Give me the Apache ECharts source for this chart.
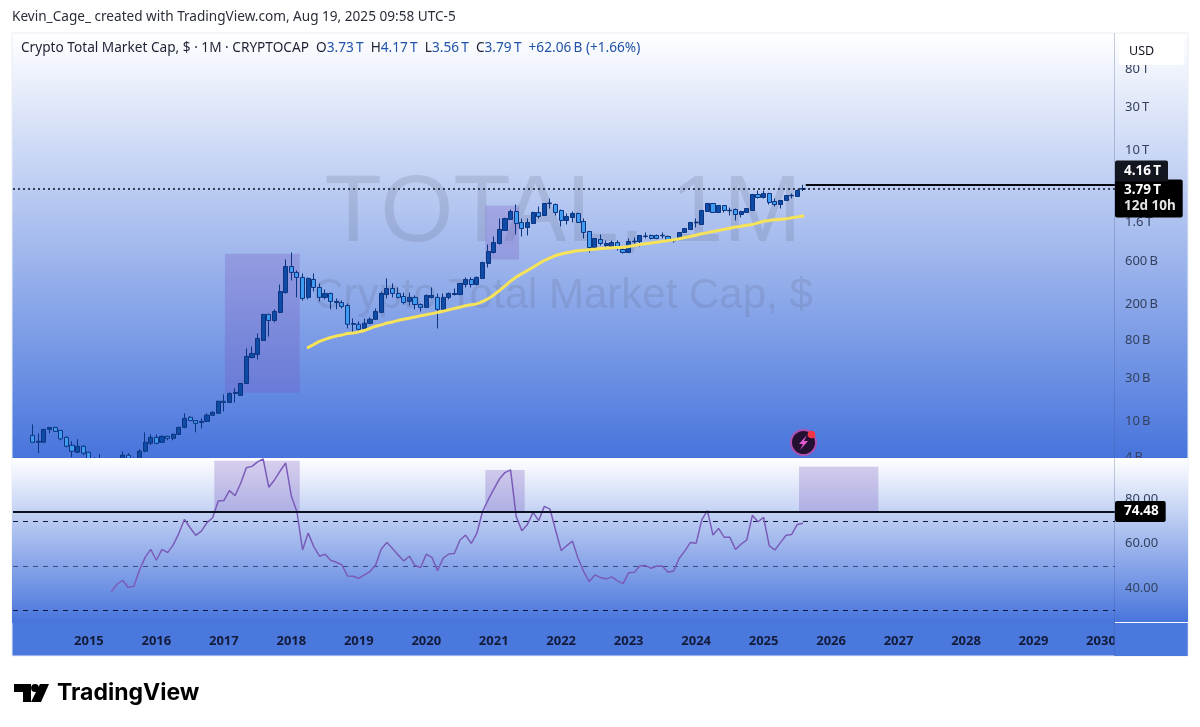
<!DOCTYPE html>
<html><head><meta charset="utf-8">
<style>html,body{margin:0;padding:0;background:#fff}#c{width:1200px;height:727px}</style>
<script src="https://cdn.jsdelivr.net/npm/echarts@6/dist/echarts.min.js"></script>
</head><body><div id="c"></div>
<script>
// Values are in billions of USD, one per month from Mar 2014 to Aug 2025.
const opens=[7,5.87,5.87,8.16,8.58,7.95,6.66,5.44,4.55,5.3,4.55,3.72,3.81,3.53,3.44,3.62,3.62,4.22,3.81,3.81,4.67,5.72,6.66,5.87,6.83,6.49,7.18,8.58,11.1,10.2,9.74,10,11.7,12.3,16.7,16.2,20.4,19.4,26.3,51,55.1,78.7,153,131,161,267,519,446,393,236,373,304,236,261,207,207,192,119,119,107,122,135,161,254,296,261,242,213,236,197,183,236,236,174,236,254,254,328,373,328,383,561,742,933,1300,1721,2110,1594,1404,1554,2057,1906,2588,2523,2165,1678,1811,2006,1636,1268,843,1034,887,864,957,801,742,975,982,1116,1145,1145,1135,1116,1000,1061,1236,1334,1580,1515,2110,2588,2057,2460,2150,2221,1955,2057,2165,3256,3016,3340,2724,2523,2794,3150,3094,3730];
const closes=[5.87,6.02,8.16,8.58,7.75,6.4,5.3,4.67,5.3,4.44,3.72,3.36,3.53,3.36,3.62,3.72,4.22,3.81,3.53,4.67,5.87,6.66,5.72,6.83,6.49,7.18,8.58,10.8,10.2,9.5,10,11.7,12.6,16.7,16.2,20.4,20.9,26.3,52.4,56.5,82.8,153,131,165,274,519,446,393,230,383,304,236,261,213,213,187,119,121,104.5,122,135,165,261,296,261,236,207,236,197,183,248,248,174,236,261,261,337,373,328,393,575,761,957,1334,1766,2110,1554,1368,1594,2057,1858,2588,2620,2057,1678,1858,2006,1594,1236,843,1061,933,933,957,821,742,982,990,1145,1130,1061,1061,1150,1007,1015,1236,1368,1594,1610,2165,2588,2057,2460,2165,2180,1955,2110,2278,3256,3016,3340,2655,2523,2794,3174,3190,3606,3790];
const lows=[5.87,4.44,5.87,7.37,7.75,6.17,5.17,4.01,4.44,4.22,3.62,3.19,3.27,3.19,3.36,3.44,3.53,3.7,3.44,3.72,4.55,5.44,5.58,5.8,6.17,6.17,7.18,8.37,10.2,7.56,8.37,9.9,11.6,12.3,12.9,16,16.2,19.2,26,49.8,48.5,78,87.1,125,158,260,363,236,218,224,274,213,224,174,174,178,107,94,101.5,104.5,119,133,158,230,236,230,197,192,174,165,180,230,107,169,224,248,250,304,304,320,380,506,723,910,1290,1721,1174,1116,1145,1540,1766,1900,2278,1906,1440,1515,1594,1594,1061,742,840,887,843,843,781,723,730,933,864,1061,1034,1040,1061,990,957,1050,1220,1320,1404,1500,2090,2040,2040,2057,1906,1678,1811,2030,2140,2940,2940,2523,2398,2278,2780,2940,3060,3560];
const highs=[9.26,7.37,8.16,8.58,8.7,8,6.8,6.02,6.33,5.44,4.6,4.01,4.33,3.72,3.81,3.95,4.67,4.44,4.01,4.91,7.56,7.18,7.18,7,6.9,7.37,8.7,12.3,11.4,10.3,10.8,12.3,12.9,16.9,19.9,20.9,23.2,26.6,64.2,67.6,94,155,155,174,328,621,742,469,435,393,435,337,289,267,230,218,202,138,128,138,142,178,274,383,337,304,267,267,248,202,254,304,261,261,267,296,340,393,393,403,585,910,1116,1766,1800,2220,2523,1766,1766,2100,2398,2620,2940,2588,2221,2006,2110,2057,1766,1280,1070,1174,1007,1007,1010,843,1061,1088,1150,1236,1174,1174,1236,1145,1061,1250,1390,1620,1766,2200,2620,2620,2480,2480,2337,2278,2150,2300,3300,3606,3606,3400,2940,2820,3200,3340,3700,4170];
const maStartIndex=49;
const maValues=[65.9,71.1,76.7,80.8,85,88,90.5,94,95,98,101.5,107,113,117,123,126,131,135,139,143,148,152,156,161,166,172,178,184,191,196,200,213,228,251,281,316,357,398,432,469,510,557,605,645,687,714,738,758,775,787,795,808,821,830,838,843,848,864,887,910,928,945,966,985,1007,1025,1055,1088,1116,1156,1197,1230,1268,1300,1338,1378,1418,1450,1483,1515,1580,1645,1678,1708,1730,1752,1797,1840,1885];
const rsiStartIndex=14;
const rsiValues=[38.5,41.8,43.6,40.3,40.9,48.2,53.9,57.5,52.6,57.5,56,59.5,64.7,71,67.2,63.8,65.7,69.5,71.7,79.2,79.4,83.9,81.6,87.2,94.2,94.8,96.8,98.1,85.4,88.7,92.7,96.3,81.5,74.4,57.2,64.8,58.7,54.4,55.3,52.6,51.7,50.5,45.5,45.4,44.5,46,47.5,50.5,57.6,60.6,57.9,55,52.3,54.4,50.2,49.3,55.3,53.9,47.9,53.5,55.4,55.6,61.7,63.9,60.2,64.7,74.4,79.7,84.5,89.1,92,93.2,72.2,65.9,68.7,74.1,70.4,76.8,75.6,66.2,56.9,59.2,61.2,53.5,47.5,43,46,44.8,44.2,45.1,43.3,42.1,47,47.2,50,50.2,49,50,49.9,47.2,47.8,53.5,56.8,60.6,60.2,70.7,74.9,63.9,66.9,62.9,62.9,57.5,59.8,61.7,72.8,69.9,71.9,59.2,57.2,60.5,63.8,64.2,68.7,69.2];
const priceTicks=[80000,30000,10000,1600,600,200,80,30,10,4];
const priceTickLabels={80000:'80\u2009T',30000:'30\u2009T',10000:'10\u2009T',1600:'1.6\u2009T',600:'600\u2009B',200:'200\u2009B',80:'80\u2009B',30:'30\u2009B',10:'10\u2009B',4:'4\u2009B'};
const rsiTicks=[40,60,80];
const rsiLevels=[70,50,30];
const lastClose=3790, projectedHigh=4160, rsiCap=74.48;
// Positions in months from the left edge of the axis
const priceBoxes=[[37.7,51.0,20.7,718],[84,90,621,2460]];
const rsiBoxes=[[35.8,51,74.48,97.3],[84,91,74.48,93.2],[139.8,153.9,74.48,94.6]];
const lastMonthPos=141.0;
const monthCount=196;

const months=[];
{let y=2013,m=12;for(let i=0;i<monthCount;i++){months.push(y+'-'+String(m).padStart(2,'0'));m++;if(m>12){m=1;y++;}}}
const firstCandle=3;
const ohlc=new Array(monthCount).fill('-');
opens.forEach((o,i)=>{ohlc[firstCandle+i]=[o,closes[i],lows[i],highs[i]];});
const maData=new Array(monthCount).fill(null);maValues.forEach((v,i)=>maData[firstCandle+maStartIndex+i]=v);
const rsiData=new Array(monthCount).fill(null);rsiValues.forEach((v,i)=>rsiData[firstCandle+rsiStartIndex+i]=v);

const FONT='"Noto Sans", sans-serif';
const grad=(c0,c1)=>new echarts.graphic.LinearGradient(0,0,0,1,[{offset:0,color:c0},{offset:1,color:c1}]);
const PANE_BLUE='#4774dc', DARK='#131722';
const box=b=>[{xAxis:b[0],yAxis:b[3]},{xAxis:b[1],yAxis:b[2]}];
const badge={backgroundColor:'#000',color:'#fff',fontFamily:FONT,fontSize:13.5,fontWeight:'bold',padding:[4,7,3,9],borderRadius:2};

const chart=echarts.init(document.getElementById('c'),null,{renderer:'canvas'});
chart.setOption({
  animation:false,
  backgroundColor:'#fff',
  grid:[
    {left:13,width:1102,top:33,height:425},
    {left:13,width:1102,top:458,height:164.5}
  ],
  xAxis:[
    {type:'category',gridIndex:0,data:months,show:false,boundaryGap:true},
    {type:'category',gridIndex:1,data:months,boundaryGap:true,
      axisLine:{show:false},axisTick:{show:false},splitLine:{show:false},
      axisLabel:{interval:(i,v)=>v.endsWith('-01')&&v>='2015',formatter:v=>v.slice(0,4),color:'#131b3a',fontFamily:FONT,fontSize:13,fontWeight:'bold',margin:12,hideOverlap:false,showMinLabel:true,showMaxLabel:true}},
    {type:'value',gridIndex:0,min:0,max:monthCount,show:false},
    {type:'value',gridIndex:1,min:0,max:monthCount,show:false}
  ],
  yAxis:[
    {type:'log',gridIndex:0,position:'right',min:3.93,max:200100,logBase:10,z:0,
      axisLine:{show:false},axisTick:{show:false},splitLine:{show:false},minorTick:{show:false},
      axisLabel:{customValues:priceTicks,formatter:v=>priceTickLabels[Math.round(v)]||'',color:'#33415f',fontFamily:FONT,fontSize:13,margin:10,padding:[2,0,0,0]}},
    {type:'value',gridIndex:1,position:'right',min:24.6,max:98.56,z:5,
      axisLine:{show:false},axisTick:{show:false},splitLine:{show:false},
      axisLabel:{customValues:rsiTicks,formatter:v=>v.toFixed(2),color:'#33415f',fontFamily:FONT,fontSize:13,margin:10,padding:[2,0,0,0]}}
  ],
  series:[
    {type:'line',name:'priceBoxes',xAxisIndex:2,yAxisIndex:0,data:[],z:1,silent:true,clip:false,
      markArea:{silent:true,z:1,itemStyle:{color:'rgba(118,86,190,0.28)'},data:priceBoxes.map(box)}},
    {type:'candlestick',name:'TOTAL',xAxisIndex:0,yAxisIndex:0,data:ohlc,barWidth:4.6,z:3,clip:true,
      itemStyle:{color:'#0e4ba6',color0:'#3f9cf0',borderColor:'#0b3580',borderColor0:'#0b3580',borderWidth:1}},
    {type:'line',name:'MA',xAxisIndex:0,yAxisIndex:0,data:maData,showSymbol:false,connectNulls:false,z:3.2,smooth:0.25,
      lineStyle:{color:'#f6e35a',width:3,cap:'round'}},
    {type:'line',name:'priceLines',xAxisIndex:2,yAxisIndex:0,data:[],z:6,silent:true,clip:false,
      markLine:{silent:true,z:6,symbol:'none',data:[
        [{coord:[0,lastClose],lineStyle:{color:'#0b0f1c',width:1.6,type:[2,3]},
          label:{show:true,position:'end',distance:0,offset:[0,10],
            formatter:'{a|3.79\u2009T}\n{b|12d 10h}',backgroundColor:'#000',padding:[3,7,3,9],borderRadius:2,
            rich:{a:{color:'#fff',fontFamily:FONT,fontSize:13.5,fontWeight:'bold',lineHeight:16},b:{color:'#e4e4e4',fontFamily:FONT,fontSize:13.5,fontWeight:'bold',lineHeight:16}}}},
         {coord:[monthCount,lastClose]}],
        [{coord:[lastMonthPos,projectedHigh],lineStyle:{color:'#06080f',width:2,type:'solid'},
          label:{show:true,position:'end',distance:0,offset:[0,-14],formatter:'4.16\u2009T',...badge,backgroundColor:'#12161f'}},
         {coord:[monthCount,projectedHigh]}]
      ]}},
    {type:'line',name:'rsiBoxes',xAxisIndex:3,yAxisIndex:1,data:[],z:4,silent:true,clip:false,
      markArea:{silent:true,z:4,itemStyle:{color:'rgba(118,86,190,0.28)'},data:rsiBoxes.map(box)}},
    {type:'line',name:'rsiLines',xAxisIndex:3,yAxisIndex:1,data:[],z:4.1,silent:true,clip:false,
      markLine:{silent:true,z:4.1,symbol:'none',data:[
        [{coord:[0,rsiLevels[0]],lineStyle:{color:'#10183c',width:1.2,type:[5,5]},label:{show:false}},{coord:[monthCount,rsiLevels[0]]}],
        [{coord:[0,rsiLevels[1]],lineStyle:{color:'#3c4a86',width:1.2,type:[5,5]},label:{show:false}},{coord:[monthCount,rsiLevels[1]]}],
        [{coord:[0,rsiLevels[2]],lineStyle:{color:'#0e1740',width:1.2,type:[5,5]},label:{show:false}},{coord:[monthCount,rsiLevels[2]]}]
      ]}},
    {type:'line',name:'RSI',xAxisIndex:1,yAxisIndex:1,data:rsiData,showSymbol:false,z:5,
      lineStyle:{color:'#7a5cb8',width:1.5}},
    {type:'line',name:'rsiCap',xAxisIndex:3,yAxisIndex:1,data:[],z:6,silent:true,clip:false,
      markLine:{silent:true,z:6,symbol:'none',data:[
        [{coord:[0,rsiCap],lineStyle:{color:'#0b0f22',width:1.8,type:'solid'},
          label:{show:true,position:'end',distance:0,formatter:'74.48',...badge}},
         {coord:[monthCount,rsiCap]}]
      ]}}
  ],
  graphic:{elements:[
    // panes
    {type:'rect',z:-20,silent:true,shape:{x:12,y:33,width:1176,height:426},style:{fill:grad('#ffffff',PANE_BLUE)}},
    {type:'rect',z:-20,silent:true,shape:{x:12,y:622,width:1176,height:34},style:{fill:'#4b78dd'}},
    {type:'rect',z:3.5,silent:true,shape:{x:12,y:458,width:1176,height:165},style:{fill:grad('#ffffff',PANE_BLUE)}},
    {type:'rect',z:-19,silent:true,shape:{x:12,y:33,width:1176,height:623},style:{fill:'none',stroke:'#e8ecf4',lineWidth:1}},
    // watermark
    {type:'text',z:-10,silent:true,style:{x:563,y:215,text:'TOTAL, 1M',align:'center',verticalAlign:'middle',font:'94px "Liberation Sans", sans-serif',fill:'rgba(96,104,134,0.2)'}},
    {type:'text',z:-10,silent:true,style:{x:563,y:296,text:'Crypto Total Market Cap, $',align:'center',verticalAlign:'middle',font:'42px "Liberation Sans", sans-serif',fill:'rgba(96,104,134,0.2)'}},
    // right column pieces that clip the neighbouring labels
    {type:'rect',z:5,silent:true,shape:{x:1114.5,y:623,width:73,height:33},style:{fill:'#4b78dd'}},
    {type:'line',z:7,silent:true,shape:{x1:1114.5,y1:33,x2:1114.5,y2:656},style:{stroke:'rgba(70,90,150,0.3)',lineWidth:1}},
    {type:'line',z:7,silent:true,shape:{x1:1115,y1:622.5,x2:1188,y2:622.5},style:{stroke:'#ffffff',lineWidth:1}},
    // USD button
    {type:'rect',z:30,silent:true,shape:{x:1119,y:36,width:65,height:29,r:3},style:{fill:'#ffffff'}},
    {type:'text',z:31,silent:true,style:{x:1129,y:51,text:'USD',verticalAlign:'middle',font:'12.5px "Noto Sans", sans-serif',fill:DARK}},
    // header
    {type:'text',z:30,silent:true,style:{x:12,y:17,text:'Kevin_Cage_ created with TradingView.com, Aug 19, 2025 09:58 UTC-5',verticalAlign:'middle',font:'13.6px "Noto Sans", sans-serif',fill:'#2a2e39'}},
    {type:'text',z:30,silent:true,style:{x:21,y:48,verticalAlign:'middle',
      text:'{k|Crypto Total Market Cap, $ · 1M · CRYPTOCAP  O}{v|3.73\u2009T}{k|  H}{v|4.17\u2009T}{k|  L}{v|3.56\u2009T}{k|  C}{v|3.79\u2009T}{v|  +62.06\u2009B (+1.66%)}',
      rich:{k:{fill:'#1c2233',font:'13.65px "Noto Sans", sans-serif'},v:{fill:'#1f52a8',font:'13.65px "Noto Sans", sans-serif'}}}},
    // lightning badge
    {type:'circle',z:30,silent:true,shape:{cx:803.5,cy:442.5,r:12.5},style:{fill:'#241132',stroke:'#b24fb0',lineWidth:2}},
    {type:'polygon',z:31,silent:true,shape:{points:[[807,435],[799,444],[803,444],[800,450],[808,441],[804,441]]},style:{fill:'#e25ad0'}},
    {type:'circle',z:32,silent:true,shape:{cx:811.5,cy:434.5,r:3.8},style:{fill:'#f23645'}},
    // TradingView logo
    {type:'polygon',z:30,silent:true,shape:{points:[[14,684],[31,684],[31,702],[23,702],[23,692],[14,692]]},style:{fill:'#000'}},
    {type:'circle',z:30,silent:true,shape:{cx:35,cy:688,r:3.9},style:{fill:'#000'}},
    {type:'polygon',z:30,silent:true,shape:{points:[[40,684],[49,684],[41,702],[31,702]]},style:{fill:'#000'}},
    {type:'text',z:30,silent:true,style:{x:57,y:693,text:'TradingView',verticalAlign:'middle',font:'bold 23px "Inter", "Noto Sans", sans-serif',fill:'#000'}}
  ]}
});
</script></body></html>
